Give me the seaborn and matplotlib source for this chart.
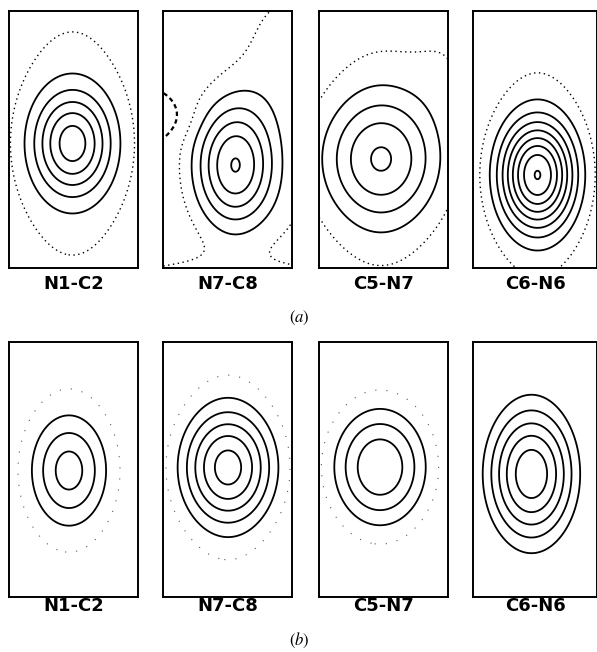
import numpy as np
import matplotlib
matplotlib.use('Agg')
import matplotlib.pyplot as plt
import seaborn as sns

# bond under each map, and the two rows of maps
bonds = ['N1-C2', 'N7-C8', 'C5-N7', 'C6-N6']
row_tags = ['a', 'b']

# contour interval (e/A^3)
step = 0.05

# density peaks of each map: (height, x0, y0, sx, sy); maps are 1 wide, 2 tall
peaks_a = [
    [(0.260, 0.492, 0.969, 0.208, 0.279)],
    [(0.296, 0.558, 0.794, 0.225, 0.349), (0.065, 0.969, 1.689, 0.310, 0.465),
     (-0.040, -0.078, 1.160, 0.194, 0.109), (0.200, 0.310, -0.335, 0.543, 0.217),
     (0.030, 1.100, 0.300, 0.200, 0.400)],
    [(0.185, 0.481, 0.848, 0.326, 0.341), (0.0665, 0.481, 0.848, 0.326, 0.729),
     (0.030, 1.000, 1.600, 0.200, 0.300)],
    [(0.400, 0.500, 0.724, 0.202, 0.295), (0.100, 0.500, 0.724, 0.465, 1.500)],
]
# broad background bowl: (depth, x0, y0, a, b)
bowl_a = [(0.020, 0.492, 0.969, 0.349, 0.827), (0, 0, 0, 1, 1),
          (0, 0, 0, 1, 1), (0, 0, 0, 1, 1)]
offset_a = [0.0, 0.0475, 0.0445, 0.0975]
lowest_a = [0, -1, 0, 0]
highest_a = [5, 5, 4, 8]

peaks_b = [
    [(0.170, 0.465, 0.992, 0.209, 0.291), (0.075, 0.465, 0.992, 0.388, 0.891)],
    [(0.275, 0.504, 1.016, 0.256, 0.318), (0.075, 0.504, 1.016, 0.349, 0.930)],
    [(0.225, 0.473, 1.019, 0.279, 0.333), (0.060, 0.473, 1.019, 0.388, 0.853)],
    [(0.290, 0.453, 0.965, 0.240, 0.357), (0.075, 0.453, 0.965, 0.349, 1.008)],
]
bowl_b = [(0, 0, 0, 1, 1)] * 4
offset_b = [0.073, 0.076, 0.090, 0.0758]
lowest_b = [0, 0, 0, 1]
highest_b = [3, 5, 3, 5]

sns.set_style('white')
plt.rcParams['mathtext.fontset'] = 'stix'
plt.rcParams['text.color'] = 'black'

W, H = 597, 652
fig = plt.figure(figsize=(W / 100, H / 100), dpi=100)

# panel boxes in pixels
lefts = [9, 163, 319, 473]
widths = [129, 129, 129, 124]
tops = [11, 342]
heights = [257, 255]
label_y = [284, 606]
tag_y = [318, 640]

gx = np.linspace(-0.05, 1.05, 330)
gy = np.linspace(-0.05, 2.05, 630)
X, Y = np.meshgrid(gx, gy)


def density(peaks, bowl, offset):
    Z = -offset * np.ones_like(X)
    for amp, x0, y0, sx, sy in peaks:
        Z += amp * np.exp(-((X - x0) ** 2 / (2 * sx ** 2) + (Y - y0) ** 2 / (2 * sy ** 2)))
    eps, bx, by, ba, bb = bowl
    Z += eps * (1 - ((X - bx) / ba) ** 2 - ((Y - by) / bb) ** 2)
    return Z


rows = [(peaks_a, bowl_a, offset_a, lowest_a, highest_a),
        (peaks_b, bowl_b, offset_b, lowest_b, highest_b)]

for r, (peaks, bowls, offs, lows, highs) in enumerate(rows):
    for i in range(4):
        w, h = widths[i], heights[r]
        ax = fig.add_axes([lefts[i] / W, 1 - (tops[r] + h) / H, w / W, h / H])
        Z = density(peaks[i], bowls[i], offs[i])
        pos = [step * k for k in range(1, highs[i] + 1)]
        ax.contour(X, Y, Z, levels=pos, colors='k', linewidths=1.3)
        if lows[i] <= 0:
            if r == 0:
                ax.contour(X, Y, Z, levels=[0.0], colors='k', linewidths=1.0,
                           linestyles=[(0, (1, 2.5))])
            else:
                ax.contour(X, Y, Z, levels=[0.0], colors='0.35', linewidths=0.8,
                           linestyles=[(0, (1, 9))])
        if lows[i] < 0:
            neg = [step * k for k in range(lows[i], 0)]
            ax.contour(X, Y, Z, levels=neg, colors='k', linewidths=1.6,
                       linestyles=[(0, (2, 1.5))])
        ax.set_xlim(0, w / 129)
        ax.set_ylim(0, 2)
        ax.set_xticks([])
        ax.set_yticks([])
        for s in ax.spines.values():
            s.set_linewidth(1.4)
            s.set_color('k')
        fig.text((lefts[i] + w / 2) / W, 1 - label_y[r] / H, bonds[i],
                 ha='center', va='center', fontsize=13, fontweight='bold',
                 family='DejaVu Sans', color='k')
    fig.text(299 / W, 1 - tag_y[r] / H, '$(' + row_tags[r] + ')$',
             ha='center', va='center', fontsize=12, color='k')

fig.savefig('out.png', dpi=100, facecolor='white')
